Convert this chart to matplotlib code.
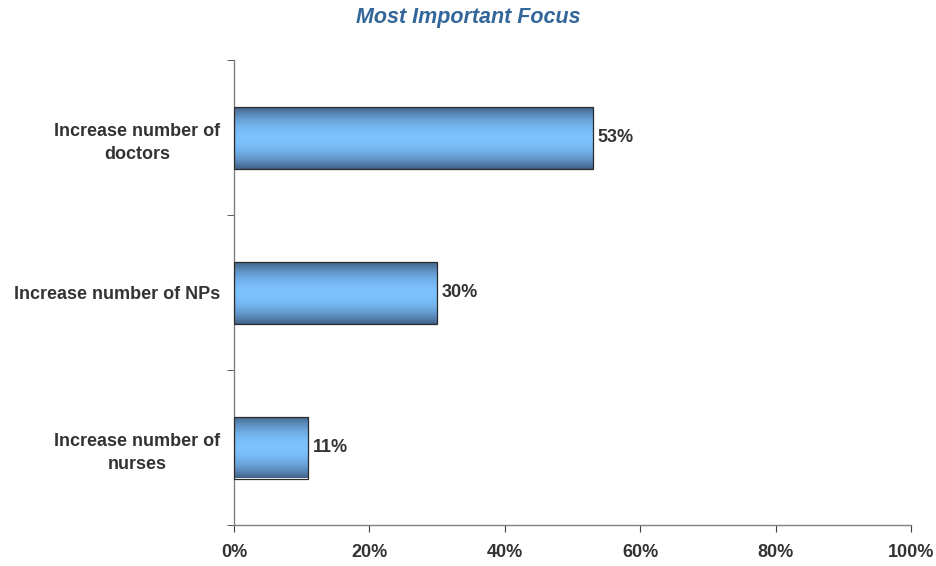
import numpy as np
import matplotlib
matplotlib.use("Agg")
import matplotlib.pyplot as plt
from matplotlib.colors import LinearSegmentedColormap
from matplotlib.ticker import FixedLocator, PercentFormatter

categories = ["Increase number of\ndoctors", "Increase number of NPs", "Increase number of\nnurses"]
values = [53, 30, 11]
value_labels = ["53%", "30%", "11%"]
x_ticks = [0, 20, 40, 60, 80, 100]

plt.rcParams["font.family"] = ["Liberation Sans", "DejaVu Sans"]
text_color = "#333333"

fig = plt.figure(figsize=(9.37, 5.66), dpi=100)
ax = fig.add_axes([234 / 937, 1 - 525 / 566, (911 - 234) / 937, (525 - 60) / 566])

ypos = np.arange(len(categories))
bars = ax.barh(ypos, values, height=0.4, facecolor="none",
               edgecolor="#2a2a2a", linewidth=0.9, zorder=3)

# vertical shading: dark steel edges, light blue centre
cmap = LinearSegmentedColormap.from_list("shade", ["#3a5676", "#5d8fc0", "#7cc2ff"])
u = np.linspace(0, 1, 256)
shade = np.sin(np.pi * u) ** 0.9
grad = shade[:, None]
for rect, lbl in zip(bars.patches, value_labels):
    x0, y0 = rect.get_x(), rect.get_y()
    w, h = rect.get_width(), rect.get_height()
    m = 0.01
    im = ax.imshow(grad, extent=[x0 - 0.2, x0 + w + 0.2, y0 - m, y0 + h + m],
                   aspect="auto", cmap=cmap, vmin=0, vmax=1, origin="lower",
                   zorder=2, interpolation="bilinear")
    im.set_clip_path(rect)
    ax.text(x0 + w + 0.7, y0 + h / 2, lbl, va="center", ha="left",
            fontsize=13, fontweight="bold", color=text_color)

ax.set_xlim(0, 100)
ax.set_ylim(len(categories) - 0.5, -0.5)

ax.xaxis.set_major_locator(FixedLocator(x_ticks))
ax.xaxis.set_major_formatter(PercentFormatter(decimals=0))
ax.set_yticks(ypos)
ax.set_yticklabels(categories, multialignment="center", linespacing=1.5)
ax.set_yticks(np.arange(-0.5, len(categories)), minor=True)

for spine in ("top", "right"):
    ax.spines[spine].set_visible(False)
for spine in ("left", "bottom"):
    ax.spines[spine].set_color("#808080")
    ax.spines[spine].set_linewidth(1.0)

ax.tick_params(axis="y", which="major", length=0, pad=10)
ax.tick_params(axis="y", which="minor", length=5, color="#404040", direction="out")
ax.tick_params(axis="x", which="major", length=5, color="#404040", direction="out", pad=9)
for lab in ax.get_xticklabels() + ax.get_yticklabels():
    lab.set_fontsize(13)
    lab.set_fontweight("bold")
    lab.set_color(text_color)

fig.text(0.5, 1 - 17 / 566, "Most Important Focus", ha="center", va="center",
         fontsize=15.5, fontweight="bold", fontstyle="italic", color="#336699")

fig.savefig("out.png", dpi=100)
